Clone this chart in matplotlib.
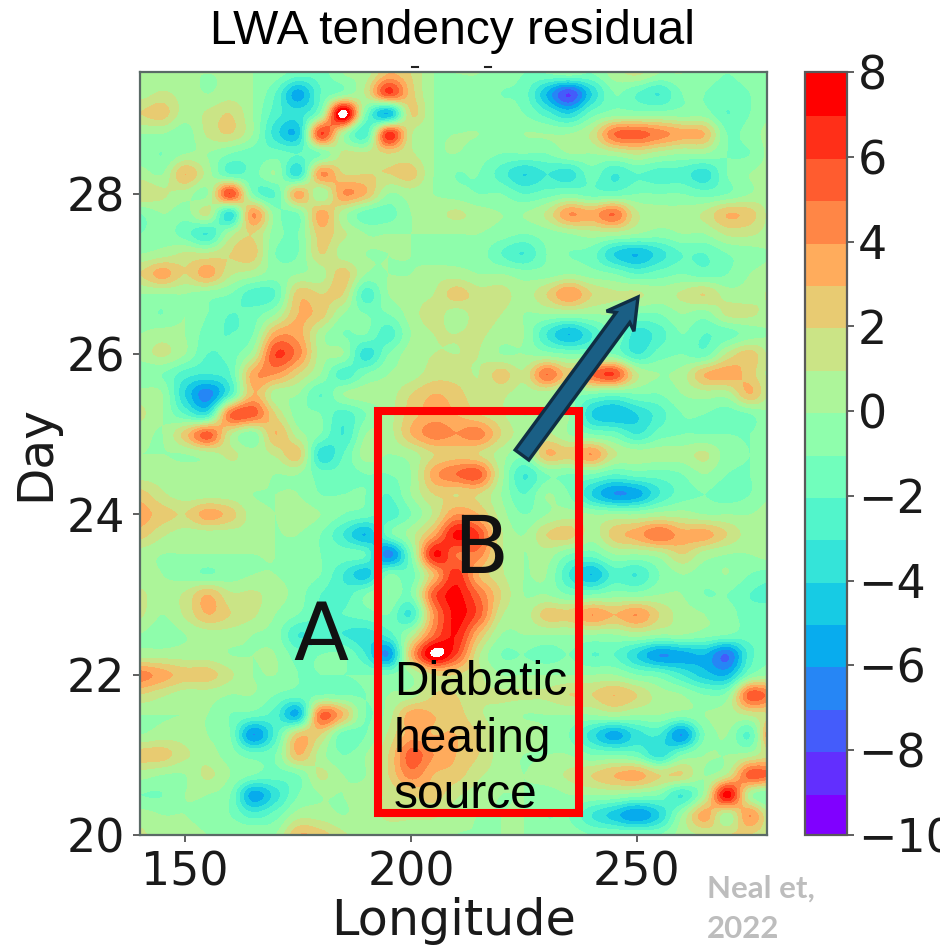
import matplotlib
matplotlib.use("Agg")
import matplotlib.pyplot as plt
import numpy as np
from matplotlib.colors import BoundaryNorm
from matplotlib.patches import FancyArrow, Rectangle

# grid the residual was read on
lons = np.arange(140, 285, 5)
days = np.arange(29.5, 19.75, -0.25)

# LWA tendency residual, one row per day value, top of the picture first
r2950 = [0,0,0,0,0,0,-.5,-1.5,-1.5,0,.5,3,2,0,0,0,-.5,-1,-1,-.5,-1,.5,1.2,0,0,-.5,-1,-.5,0]
r2925 = [.5,1.2,.5,0,.5,0,-2,-5.5,-2,-.5,1.2,6,2.5,0,-.5,-.5,-1,-1.5,-5,-8,-4,-1,-2,-3,-1,-1,-1.5,-1,0]
r2900 = [2,2.5,.5,1.2,2,0,-2.5,-3.5,-.5,8.8,-1,-5,2,0,-.5,-.5,-.5,-1,-2.5,-4,-1.5,-.5,-.5,-.5,-.5,-.5,-2,-1,0]
r2875 = [0,0,-.5,1.2,2,0,-3.5,-4.5,6,.5,-2.5,6.5,1.2,0,0,0,-.5,0,0,0,1.2,5,5.5,4.5,3.5,3,-1,-.5,.5]
r2850 = [-.5,-1,0,0,-1,-1.5,-1.5,-2,-1,1.2,1.2,2,1.2,0,0,-.5,-1,-1,-1,0,0,.5,1.2,.5,0,0,-1,-1,.5]
r2825 = [.5,0,3,.5,-2,-1.5,0,-3.5,4,2,2,2,2.5,0,-1,-1,-2.5,-4,-3,-3.5,-1.5,-3,-2,-2.5,-2.5,-3.5,-1,0,.5]
r2800 = [2,1.2,.5,0,6,-1,-2,3.5,0,4,3,0,.5,0,-.5,-1,-1,-2,-1.5,-1,-1.5,-1.5,-1,-1,-1,-1.5,-1,0,.5]
r2775 = [-1,0,-.5,1.2,-3.5,4,-.5,-1,3.5,.5,-1.5,-1.5,0,.5,1.2,.5,0,0,1.2,4,3.5,5,1.2,.5,.5,1.2,3,2.5,.5]
r2750 = [-1,-.5,-1.5,-3,.5,2,-.5,-1,2.5,1.2,0,0,0,0,0,0,-.5,-1,-.5,0,.5,.5,0,-.5,0,0,1.2,1.2,.5]
r2725 = [0,.5,1.2,1.2,2,2.5,-1,-1,2,.5,0,0,0,-.5,-.5,-.5,-2,-3,-1,-1,-1.5,-4,-5,-3.5,-2,-2,-1,-.5,0]
r2700 = [2,3.5,2,3.5,1.2,.5,-.5,0,.5,2.5,0,0,0,.5,.5,0,0,-.5,-.5,0,-.5,-1,-2,-1.5,-1,-1.5,-1,0,.5]
r2675 = [0,0,0,-.5,-1,-2.5,-2,2.5,2,2,-2.5,0,.5,1,2.5,1.5,1.5,.5,2,4,2,1.2,1.2,.5,1.2,2,.5,.5,1.2]
r2650 = [-.5,-1,0,-1,-2,-1.5,0,3,2.5,0,-1,-1,.5,1.5,.5,1.5,1,0,0,0,0,0,-1,-1,0,-.5,1.2,1.2,.5]
r2625 = [0,.5,0,-1.5,-2,-1,3.5,3.5,.5,-1,-1,-2.5,0,1,1,1.2,.5,0,-3,-5,-3,-1,-3.5,-2.5,-1,-2,-1.5,-.5,0]
r2600 = [.5,1.2,0,-2,-1.5,.5,6,4.5,.5,0,-3.5,-1,.5,1,1,1,0,0,-.5,-1,-1,-1,-3,-1.5,-1,-1.5,1.2,2.5,.5]
r2575 = [-1,-1,-2.5,-3,-2,3.5,4,2,0,-2.5,-1,0,.5,1.5,1.5,1,2.5,1.2,5,2.5,5,6,1.2,0,.5,3,3.5,2.5,.5]
r2550 = [.5,0,-4,-6.5,-2.5,3,.5,0,-2,0,.5,.5,2,3,2.5,1.2,1.2,.5,.5,-.5,-1,-1.5,-1,-1,0,.5,.5,3,.5]
r2525 = [1.2,0,-2,-3,5,5.5,2,-.5,-1,-2.5,-1,.5,2.5,3.5,3,2,1.2,0,.5,0,-4,-5,-4,-2.5,-1,-1,-1.5,-1,0]
r2500 = [.5,0,2.5,5.5,1.2,-.5,3,.5,-1,-3,0,.5,3,4.5,4,4.5,2,.5,1.2,0,-1,-1.5,-3,-1.5,-1,-1,-1,-1,-.5]
r2475 = [0,0,0,.5,1.2,.5,1.2,2.5,-3.5,-2,.5,0,.5,2,2.5,2,.5,-.5,3,2.5,4,1.2,.5,.5,.5,1.2,-.5,-1,-.5]
r2450 = [.5,.5,.5,.5,.5,.5,0,0,-1.5,-1.5,-1,-1,0,3.5,5,5.5,.5,-3,-1,-1,-1,-2,-1.5,-1.5,-1,0,-1,-1,-.5]
r2425 = [2.5,1.2,.5,.5,.5,0,0,0,-1,-1,-1,-2,0,2,2,2,0,-2,0,-1,-4,-6,-5.5,-3,-1.5,-1,-1.5,-1,0]
r2400 = [3.5,2.5,2,3.5,2.5,.5,0,.5,0,-1,-1.5,-2.5,-1,1.2,4,3,.5,-1,0,.5,0,0,0,.5,.5,0,0,0,.5]
r2375 = [2.5,1.2,.5,.5,.5,.5,0,0,-1,-3,-5,-1.5,.5,3.5,7.3,6,1.2,0,2,2.5,.5,2.5,3.5,5,3.5,3.5,2,.5,.5]
r2350 = [.5,0,0,0,0,0,0,-.5,-1,-1.5,-2,-6.5,-1,7,5,4.5,1.2,0,.5,-1,-1.5,0,0,.5,2,.5,0,0,.5]
r2325 = [.5,0,-.5,-1,-.5,0,0,-.5,-1,-3,-4.5,-1,-1.5,3,6.5,3,1.2,0,0,-3,-5,-2.5,-3,-1,0,-.5,0,-1,-1.5]
r2300 = [1.2,.5,1.2,3,1.2,1.2,.5,-.5,-2,-2.5,-1,0,-1,5.5,7.3,5,2,0,0,-1,-1,-.5,-.5,0,0,-1,-1,-2,-2.5]
r2275 = [1.2,0,1.2,3,2,1.2,0,-1,-2,-2,-1.5,-1,-3,4,7.3,5.5,1.2,.5,2.5,2.5,4,3,4,2,.5,0,-.5,-1.5,-1]
r2250 = [0,-.5,0,.5,.5,0,-.5,-3,-2.5,-3,-3.5,-2.5,.5,5,7,3,0,0,0,0,0,0,.5,0,0,-.5,-1,-1.5,-1]
r2225 = [.5,.5,.5,.5,0,0,0,-1.5,-1,-1,-3,-6,3,8.3,6,1.2,-1,-1,-1.5,-1,-2,-2,-4,-6,-5.5,-5,-7,-2.5,-1]
r2200 = [4.5,3.5,2.5,2.5,1.2,0,0,-1,-1,-1,-1,-1,0,2,2,1.2,0,0,0,0,0,0,-1,-1.5,-3,-4.5,-5,-1,0]
r2175 = [2,1.2,.5,.5,0,0,-1,-1.5,-1,-1,-1,0,.5,2,2,1.2,1.2,1.2,1.2,2,2,3,2,.5,0,-1,-.5,5.5,4.5]
r2150 = [0,0,0,0,-1,-1.5,-2.5,-5,5,3,-1,.5,3.5,3,2.5,1.2,.5,0,0,0,0,.5,0,0,-.5,0,.5,1.2,2]
r2125 = [0,.5,.5,0,-1,-6,-2.5,2.5,2,-1.5,-1,1.2,3.5,3,3,2,.5,.5,0,-1,-3.5,-5.5,-3.5,-3,-6,-1,0,-2,5]
r2100 = [2.5,2.5,1.2,.5,-.5,-1.5,-1,3,.5,-1,0,2,5.5,4,3,2,.5,0,0,0,-1,-1,-1.5,-3.5,-1,0,0,.5,2]
r2075 = [.5,0,0,1.2,0,-1,-1.5,-1,1.2,0,0,2,4.5,3,2.5,1.2,.5,0,.5,1.2,2,3,3.5,2,2,0,1.2,5.5,5]
r2050 = [-1,-1,0,0,-1,-5.5,-3.5,-1,0,0,.5,1.2,2,2.5,1.2,.5,0,0,-.5,0,0,0,-.5,-1,-3,.5,7.5,.5,-1]
r2025 = [.5,0,0,-.5,-1,-2.5,-1.5,.5,.5,0,.5,1.2,1.2,1.2,.5,0,0,0,-1,-1,-3,-4.5,-6,-4,0,3.5,.5,4,.5]
r2000 = [1.2,.5,.5,0,0,0,0,3,2.5,1.2,.5,.5,.5,.5,0,0,0,0,-.5,-.5,-1,-1,-1,-1,.5,1.2,2,2,1.2]

residual = np.array([r2950, r2925, r2900, r2875, r2850, r2825, r2800, r2775, r2750, r2725,
                     r2700, r2675, r2650, r2625, r2600, r2575, r2550, r2525, r2500, r2475,
                     r2450, r2425, r2400, r2375, r2350, r2325, r2300, r2275, r2250, r2225,
                     r2200, r2175, r2150, r2125, r2100, r2075, r2050, r2025, r2000])

levels = np.arange(-10, 9, 1)
cbar_ticks = [-10, -8, -6, -4, -2, 0, 2, 4, 6, 8]
lon_ticks = [150, 200, 250]
day_ticks = [20, 22, 24, 26, 28]

W = 951.0

fig = plt.figure(figsize=(9.51, 9.51), dpi=100, facecolor="white")

cmap = plt.get_cmap("rainbow").copy()
cmap.set_over("white")
norm = BoundaryNorm(levels, cmap.N)

# main panel, numbers are pixels of the picture
ax = fig.add_axes([140 / W, 1 - 835 / W, 627 / W, 763 / W])
im = ax.imshow(residual, extent=(lons[0] - 2.5, lons[-1] + 2.5, days[-1] - 0.125, days[0] + 0.125),
               cmap=cmap, norm=norm, aspect="auto", interpolation="catrom", interpolation_stage="data")
ax.set_xlim(140, 278.8)
ax.set_ylim(20, 29.52)
ax.set_xticks(lon_ticks)
ax.set_yticks(day_ticks)
ax.tick_params(labelsize=33, length=5, width=1.2, color="#444444", labelcolor="#1a1a1a", pad=6)
ax.set_xlabel("Longitude", fontsize=35.5, color="#1a1a1a", labelpad=1)
ax.set_ylabel("Day", fontsize=35, color="#1a1a1a", labelpad=5)
for s in ax.spines.values():
    s.set_color("#5a6a66")
    s.set_linewidth(1.6)

cax = fig.add_axes([805 / W, 1 - 835 / W, 42 / W, 763 / W])
cb = fig.colorbar(im, cax=cax, ticks=cbar_ticks, extend="neither")
cb.ax.minorticks_off()
cb.solids.set_edgecolor("face")
cb.ax.tick_params(labelsize=33, length=5, width=1.2, color="#444444", labelcolor="#1a1a1a", pad=3)
cb.outline.set_edgecolor("#5a5a5a")
cb.outline.set_linewidth(1.6)

# everything pasted on the slide goes on a pixel overlay
ov = fig.add_axes([0, 0, 1, 1], zorder=10)
ov.set_xlim(0, W)
ov.set_ylim(W, 0)
ov.axis("off")

ov.text(453, 32, "LWA tendency residual", fontsize=34.5, family="Liberation Sans",
        ha="center", va="center", color="black")

ov.add_patch(Rectangle((377.5, 411), 201, 402, fill=False, edgecolor="#ff0000", linewidth=5.8))

ov.add_patch(FancyArrow(522, 455, 116, -158, width=17, head_width=34, head_length=30,
                        length_includes_head=True, overhang=0.15,
                        facecolor="#1a5f85", edgecolor="#0f2e44", linewidth=2.4))

ov.text(321, 660, "A", fontsize=58, ha="center", va="baseline", color="#111111")
ov.text(481, 573, "B", fontsize=58, ha="center", va="baseline", color="#111111")

for txt, y in zip(["Diabatic", "heating", "source"], [695, 752, 808]):
    ov.text(394, y, txt, fontsize=34.5, family="Liberation Sans", ha="left", va="baseline", color="black")

ov.text(707, 898, "Neal et,", fontsize=22.5, family="Lato", weight="bold", color="#bdbdbd", va="baseline")
ov.text(707, 938, "2022", fontsize=22.5, family="Lato", weight="bold", color="#bdbdbd", va="baseline")

# scraps of cropped text above the panel
ov.plot([412, 418], [67, 67], color="#222222", lw=1.5)
ov.plot([485, 491], [67, 67], color="#222222", lw=1.5)

# the slide crops the last colorbar label
ov.add_patch(Rectangle((940, 780), 11, 100, facecolor="white", edgecolor="none"))

fig.savefig("out.png", dpi=100)
